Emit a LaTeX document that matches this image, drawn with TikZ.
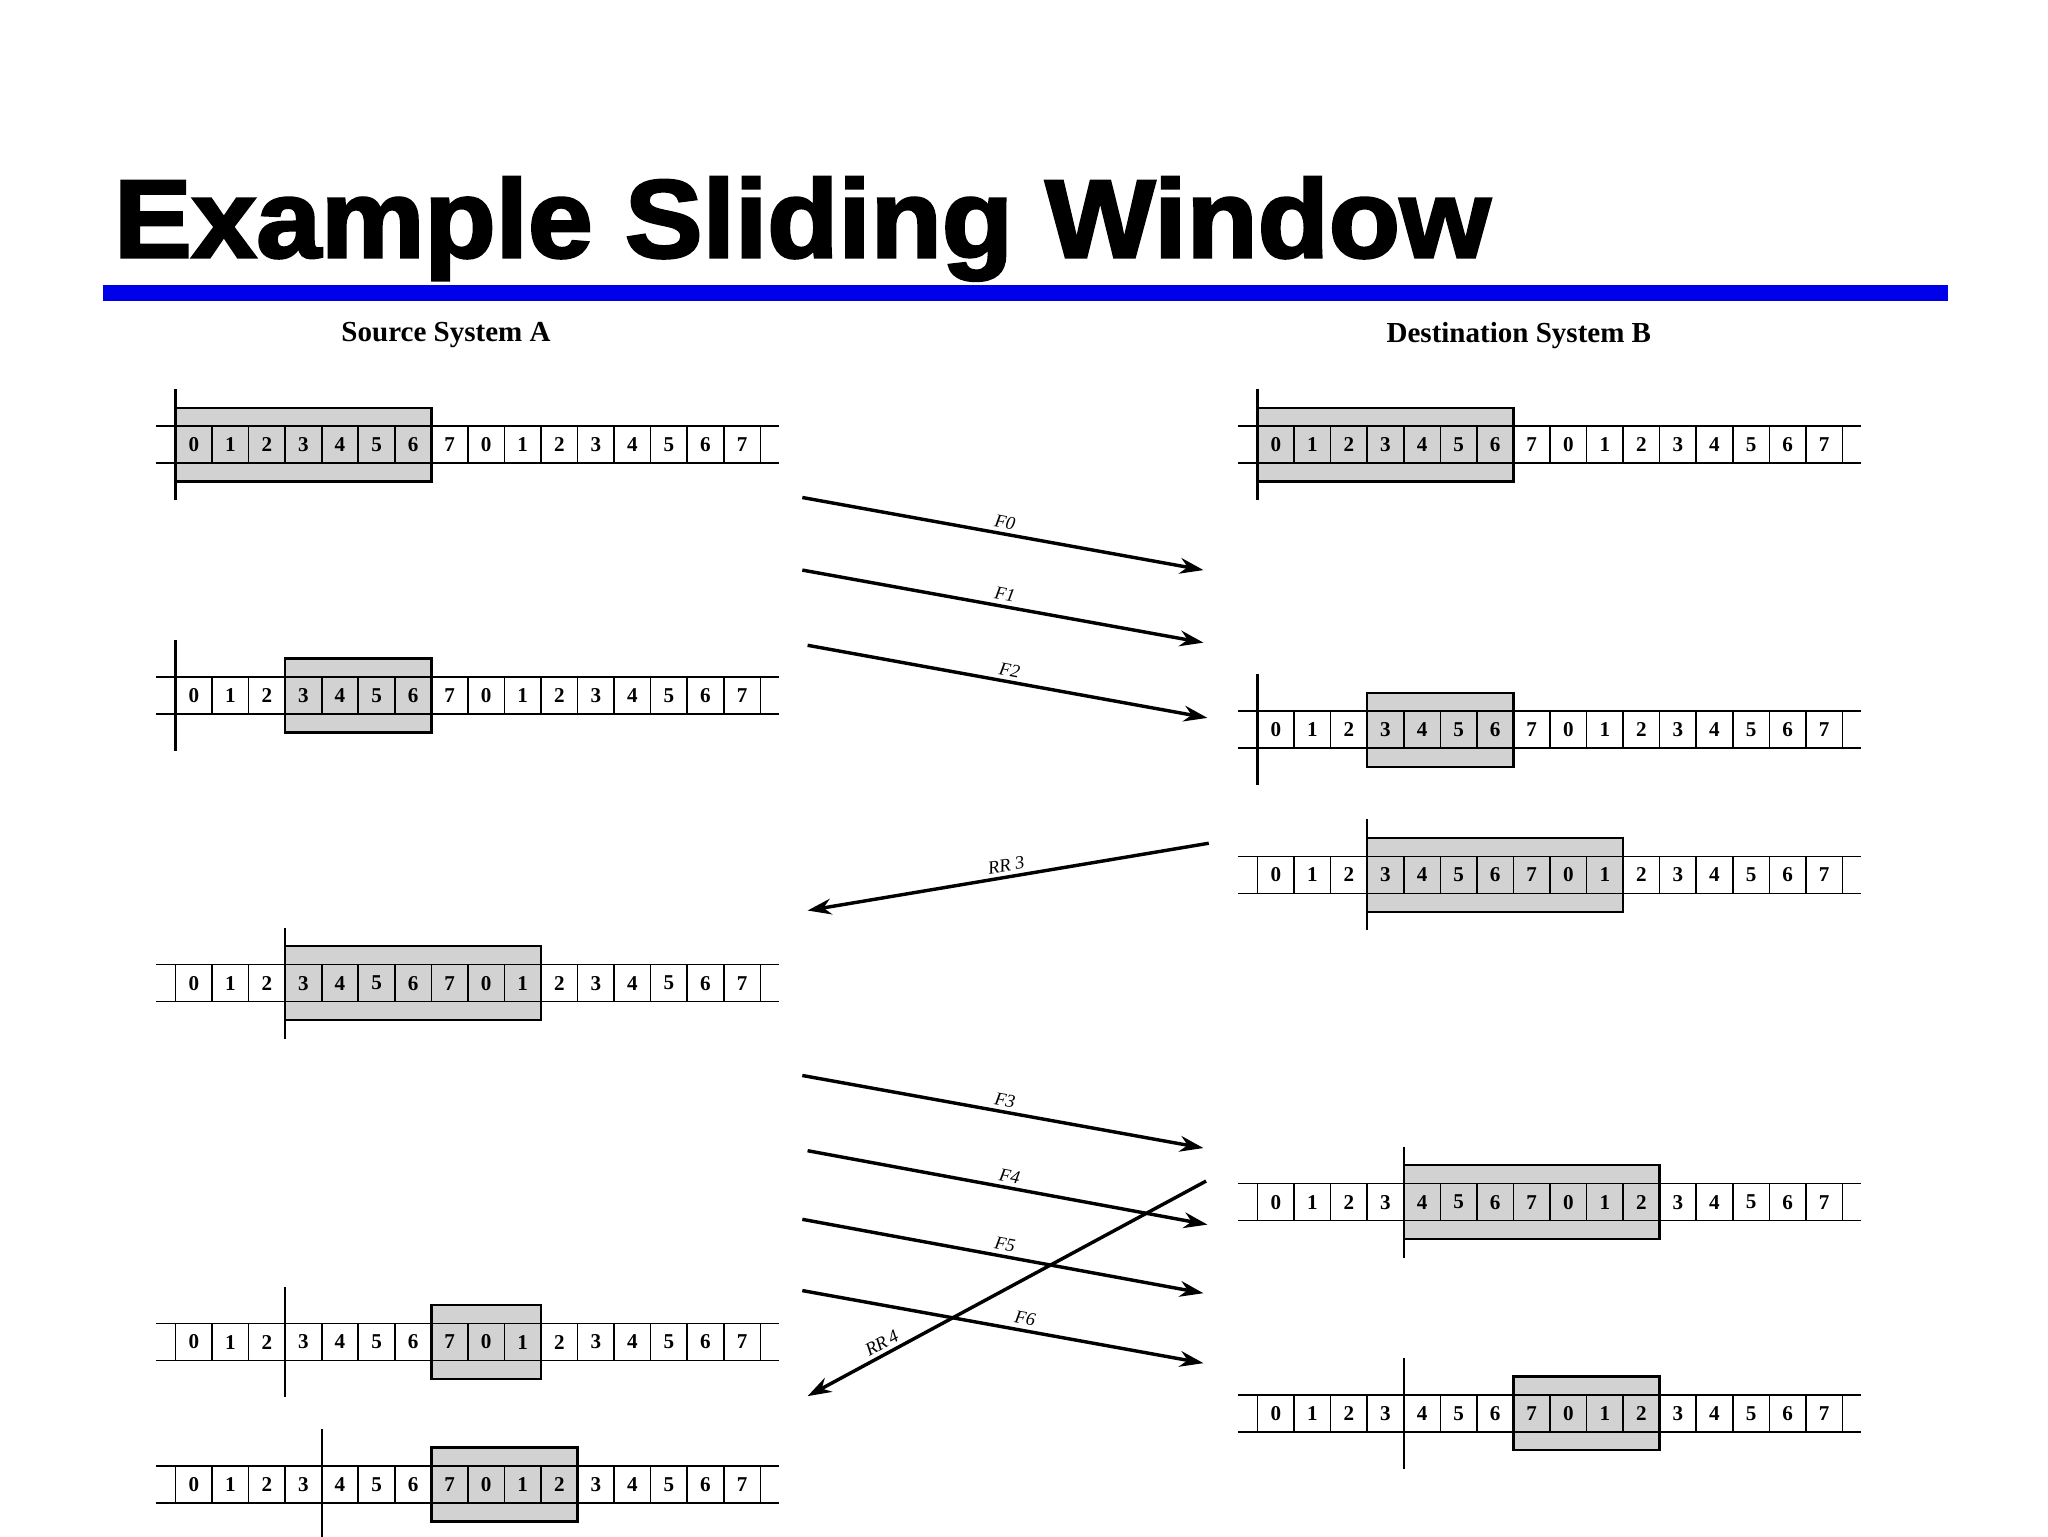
\documentclass[tikz,border=0pt]{standalone}
\usepackage{fontspec}
\setmainfont{Liberation Serif}
\newfontfamily\titlefont[FakeBold=2.5]{Liberation Sans}
\usetikzlibrary{arrows.meta}
\definecolor{winfill}{RGB}{210,210,210}
\definecolor{barblue}{RGB}{0,0,235}
\tikzset{
 msg/.style={line width=1.3pt,-{Stealth[length=9pt,width=6pt]}},
 mlab/.style={font=\fontsize{7}{8}\selectfont\itshape,sloped,above,inner sep=1.5pt},
 cell/.style={font=\fontsize{8}{9}\selectfont\bfseries,inner sep=0pt},
 hdr/.style={font=\fontsize{11}{13}\selectfont\bfseries}
}
\newcommand{\wstrip}[6]{%
 \begin{scope}[shift={(#2,#3)}]
 \fill[winfill] ({15+27.7*#4},-28) rectangle ({15+27.7*#5},28);
 \draw[line width=0.6pt] (0,-14) -- (472,-14) (0,14) -- (472,14);
 \foreach \k in {0,...,16} \draw[line width=0.6pt] ({15+27.7*\k},-14) -- ({15+27.7*\k},14);
 \foreach \k in {0,...,15} {\pgfmathtruncatemacro\lab{mod(\k,8)}
   \node[cell] (#1-\k) at ({28.85+27.7*\k},0) {\lab};}
 \draw[line width=0.9pt] ({15+27.7*#4},-28) rectangle ({15+27.7*#5},28);
 \draw[line width=0.9pt] ({15+27.7*#6},-42) -- ({15+27.7*#6},42);
 \end{scope}}
\begin{document}
\begin{tikzpicture}[x=0.5pt,y=-0.5pt]
\useasboundingbox (0,0) rectangle (1552,1164);
\node[anchor=base west,inner sep=0pt,font=\titlefont\fontsize{42}{48}\selectfont\bfseries] (title) at (86,195) {\scalebox{1.05}[1]{Example Sliding Window}};
\fill[barblue] (78,216) rectangle (1476,228);
\node[hdr] (hA) at (338,254) {Source System A};
\node[hdr] (hB) at (1151,254) {Destination System B};
\wstrip{a1}{118}{337}{0}{7}{0}
\wstrip{a2}{118}{527}{3}{7}{0}
\wstrip{a3}{118}{745}{3}{10}{3}
\wstrip{a4}{118}{1017}{7}{10}{3}
\wstrip{a5}{118}{1125}{7}{11}{4}
\wstrip{b1}{938}{337}{0}{7}{0}
\wstrip{b2}{938}{553}{3}{7}{0}
\wstrip{b3}{938}{663}{3}{10}{3}
\wstrip{b4}{938}{911}{4}{11}{4}
\wstrip{b5}{938}{1071}{7}{11}{4}
\coordinate (f0s) at (608,377); \coordinate (f0e) at (912,432);
\coordinate (f1s) at (608,432); \coordinate (f1e) at (912,487);
\coordinate (f2s) at (612,489); \coordinate (f2e) at (915,544);
\coordinate (r3s) at (916,639); \coordinate (r3e) at (612,690);
\coordinate (f3s) at (608,815); \coordinate (f3e) at (912,870);
\coordinate (f4s) at (612,872); \coordinate (f4e) at (915,928);
\coordinate (f5s) at (608,924); \coordinate (f5e) at (912,980);
\coordinate (f6s) at (608,978); \coordinate (f6e) at (912,1033);
\coordinate (r4s) at (914,895); \coordinate (r4e) at (612,1058);
\draw[msg] (f0s) -- node[mlab] {F0} (f0e);
\draw[msg] (f1s) -- node[mlab] {F1} (f1e);
\draw[msg] (f2s) -- node[mlab] {F2} (f2e);
\draw[msg] (r3s) -- node[mlab] {RR 3} (r3e);
\draw[msg] (f3s) -- node[mlab] {F3} (f3e);
\draw[msg] (f4s) -- node[mlab] {F4} (f4e);
\draw[msg] (f5s) -- node[mlab] {F5} (f5e);
\draw[msg] (f6s) -- node[mlab,pos=0.55] {F6} (f6e);
\draw[msg] (r4s) -- node[mlab,pos=0.8] {RR\,4} (r4e);
\end{tikzpicture}
\end{document}
